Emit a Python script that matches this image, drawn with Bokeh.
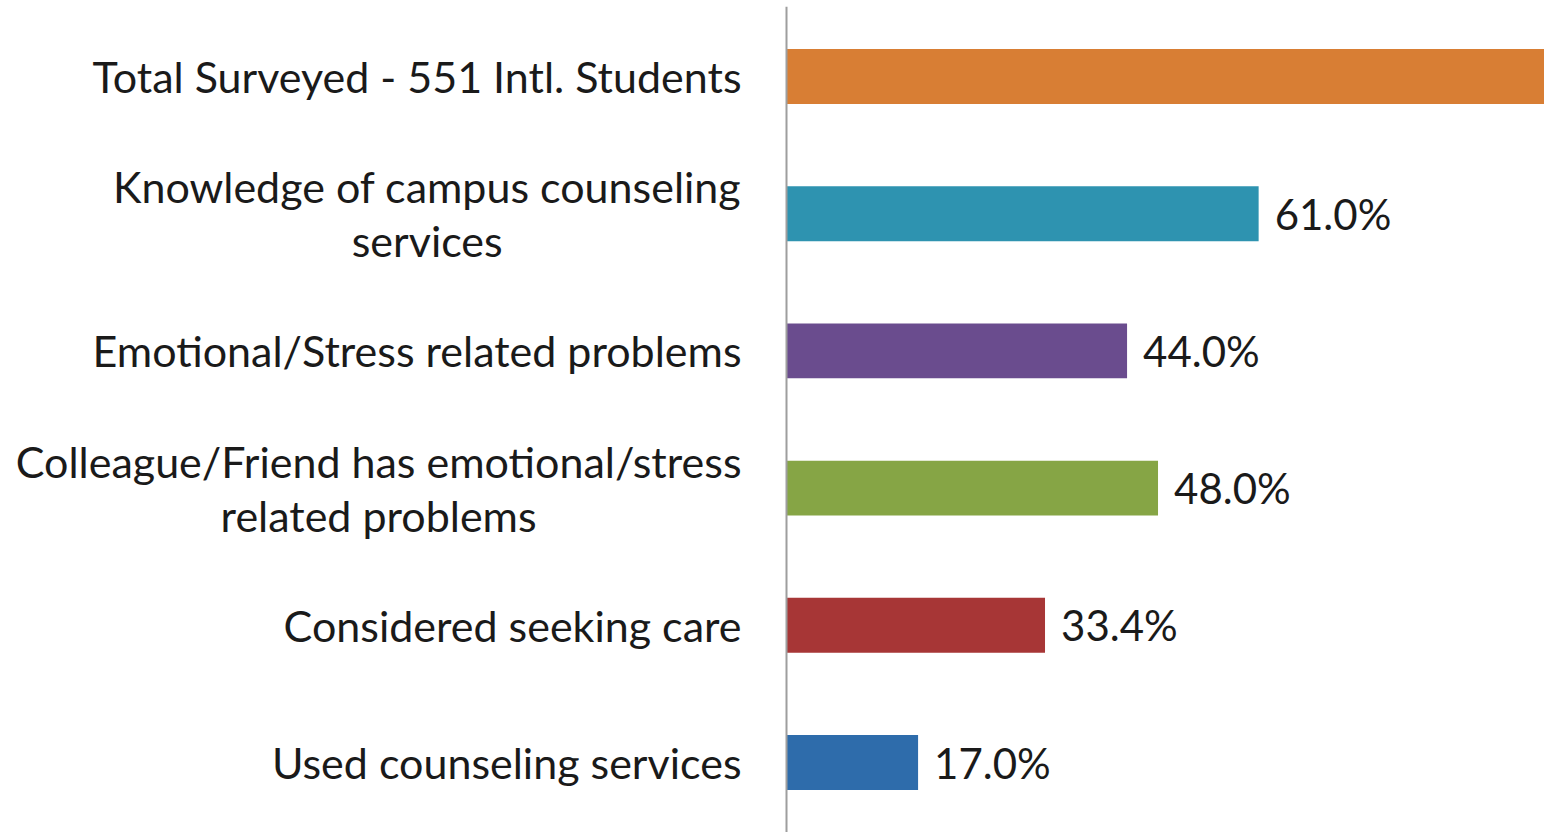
from bokeh.plotting import figure
from bokeh.models import ColumnDataSource, FactorRange, Range1d, Span
from bokeh.core.properties import value
from bokeh.embed import file_html
from bokeh.resources import INLINE

categories = [
    "Total Surveyed - 551 Intl. Students",
    "Knowledge of campus counseling\nservices",
    "Emotional/Stress related problems",
    "Colleague/Friend has emotional/stress\nrelated problems",
    "Considered seeking care",
    "Used counseling services",
]
values = [100.0, 61.0, 44.0, 48.0, 33.4, 17.0]
value_labels = ["", "61.0%", "44.0%", "48.0%", "33.4%", "17.0%"]
colors = ["#D87E34", "#2E93B0", "#6A4C8E", "#86A545", "#A73636", "#2E6CAB"]

FONT = "Lato"
W, H = 1544, 832
axis_px = 786          # position of the zero line inside the figure
px_per_unit = 7.74

src = ColumnDataSource(dict(cat=categories, val=values, lab=value_labels, col=colors))

p = figure(
    width=W, height=H,
    y_range=FactorRange(factors=categories[::-1], range_padding=0.01,
                        range_padding_units="absolute"),
    x_range=Range1d(-axis_px / px_per_unit, (W - axis_px) / px_per_unit),
    output_backend="svg", toolbar_location=None,
    min_border=0, min_border_left=0, min_border_right=0,
    min_border_top=6, min_border_bottom=0,
)
p.axis.visible = False
p.grid.visible = False
p.outline_line_color = None
p.background_fill_color = "white"
p.border_fill_color = "white"

p.hbar(y="cat", left=0, right="val", height=0.4, fill_color="col",
       line_color=None, source=src)

p.add_layout(Span(location=0, dimension="height", line_color="#9E9E9E",
                  line_width=2))

# category labels
p.text(x=0, y="cat", text="cat", source=src, x_offset=-45,
       anchor=value("center_right"), text_align="center",
       text_baseline="middle", text_font=value(FONT),
       text_font_size="43px", text_color="#1A1A1A", text_line_height=1.06)

# value labels
p.text(x="val", y="cat", text="lab", source=src, x_offset=16,
       text_align="left", text_baseline="middle", text_font=value(FONT),
       text_font_size="42px", text_color="#1A1A1A")

open("out.html", "w").write(file_html(p, INLINE))
